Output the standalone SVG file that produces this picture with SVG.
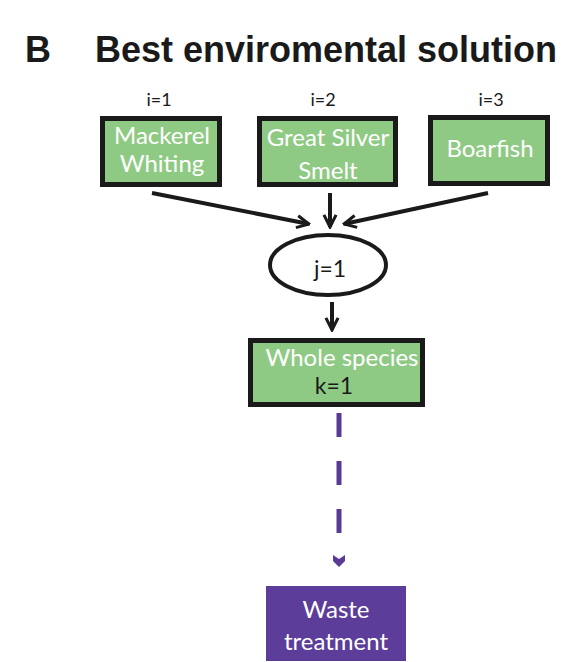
<svg xmlns="http://www.w3.org/2000/svg" width="565" height="662" viewBox="0 0 565 662">
<defs>
<style>
.title{font-family:"Liberation Sans",Arial,sans-serif;font-weight:bold;font-size:36px;fill:#1a1a1a}
.lbl{font-family:Lato,"Open Sans",sans-serif;font-size:18px;fill:#1a1a1a;text-anchor:middle}
.box{fill:#8fca84;stroke:#1a1a1a;stroke-width:5}
.wt{font-family:Lato,"Open Sans",sans-serif;font-size:24px;fill:#ffffff;text-anchor:middle}
.bt{font-family:Lato,"Open Sans",sans-serif;font-size:23px;fill:#1a1a1a;text-anchor:middle}
.arr{fill:none;stroke:#1a1a1a;stroke-width:4;stroke-linecap:butt}
.dash{fill:none;stroke:#5b3a96;stroke-width:5;stroke-dasharray:24 24}
</style>
<marker id="ah" viewBox="0 0 10 10" refX="9" refY="5" markerWidth="3.8" markerHeight="3.8" orient="auto" markerUnits="strokeWidth">
<path d="M1,1 L9,5 L1,9" fill="none" stroke="#1a1a1a" stroke-width="2"/>
</marker>
</defs>
<rect width="565" height="662" fill="#ffffff"/>
<text class="title" x="25" y="62">B</text>
<text class="title" x="95" y="62">Best enviromental solution</text>

<g id="connectors">
<path class="arr" d="M152,193 L309,224" marker-end="url(#ah)"/>
<path class="arr" d="M330,193 L330,227" marker-end="url(#ah)"/>
<path class="arr" d="M488,193 L344,224" marker-end="url(#ah)"/>
<path class="arr" d="M332,302 L332,330" marker-end="url(#ah)"/>
<path class="dash" d="M339,413 L339,533"/>
<path d="M333,555 L339,559 L345,555 L345,561 L339,567 L333,561 Z" fill="#5b3a96"/>
</g>

<g id="n1">
<text class="lbl" x="159" y="106">i=1</text>
<rect class="box" x="102.5" y="118.5" width="117" height="66"/>
<text class="wt" x="162" y="144">Mackerel</text>
<text class="wt" x="162" y="172">Whiting</text>
</g>
<g id="n2">
<text class="lbl" x="323" y="106">i=2</text>
<rect class="box" x="259.5" y="118.5" width="136" height="66"/>
<text class="wt" x="328" y="146">Great Silver</text>
<text class="wt" x="328" y="179">Smelt</text>
</g>
<g id="n3">
<text class="lbl" x="491" y="106">i=3</text>
<rect class="box" x="430.5" y="117.5" width="117" height="66"/>
<text class="wt" x="490" y="157">Boarfish</text>
</g>
<g id="j1">
<ellipse cx="328" cy="265" rx="58" ry="30" fill="#ffffff" stroke="#1a1a1a" stroke-width="4"/>
<text class="bt" x="330" y="277">j=1</text>
</g>
<g id="k1">
<rect class="box" x="250.5" y="340.5" width="172" height="64"/>
<text class="wt" x="342" y="366">Whole species</text>
<text class="bt" x="334" y="394">k=1</text>
</g>
<g id="waste">
<rect x="266" y="586" width="140" height="75" fill="#5c3d99"/>
<text class="wt" x="336" y="618">Waste</text>
<text class="wt" x="336" y="650">treatment</text>
</g>
</svg>
